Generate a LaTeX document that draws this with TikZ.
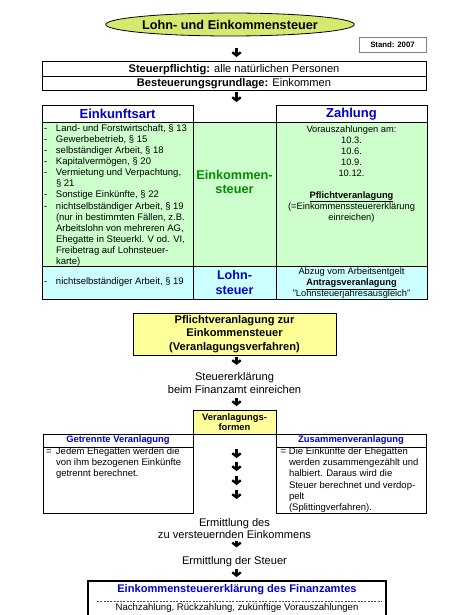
\documentclass[tikz,border=0pt]{standalone}
\usepackage{fontspec}
\setmainfont{Liberation Sans}
\usetikzlibrary{shapes.geometric,arrows.meta,positioning}

\definecolor{hgruen}{RGB}{204,255,204}
\definecolor{hcyan}{RGB}{204,255,255}
\definecolor{hgelb}{RGB}{255,255,153}
\definecolor{ellrand}{RGB}{214,232,110}
\definecolor{ellmitte}{RGB}{255,255,170}
\definecolor{dblau}{RGB}{0,0,204}
\definecolor{dgruen}{RGB}{0,140,0}

\newcommand{\schrift}[2]{\fontsize{#1}{#2}\selectfont}

\begin{document}
\begin{tikzpicture}
[x=1pt,y=-1pt,
every node/.style={inner sep=0pt,outer sep=0pt,align=center},
box/.style={draw,line width=1pt},
kopf/.style={font=\bfseries\schrift{13}{15},text=dblau},
kopfklein/.style={font=\bfseries\schrift{9.4}{11},text=dblau},
klein/.style={font=\schrift{9.5}{11.1}},
mittel/.style={font=\schrift{11.1}{13}},
pfeil/.style={line width=2.4pt,-{Straight Barb[length=3.2pt,width=8.5pt]}},
]
\useasboundingbox (0,0) rectangle (474,615);
\coordinate (achse) at (236.5,0);

\node[ellipse,draw,line width=0.8pt,minimum width=248pt,minimum height=23pt,
  left color=ellrand,middle color=ellmitte,right color=ellrand,
  font=\bfseries\schrift{12.7}{15}] (titel) at (230,24.5) {Lohn- und Einkommensteuer};
\node[draw=gray,line width=0.9pt,minimum width=67pt,minimum height=15pt,
  font=\bfseries\schrift{7.8}{9}] (stand) at (392.5,44.5) {Stand: 2007};

\node[box,mittel,minimum width=384pt,minimum height=15pt] (pflichtig) at (234,69.5)
  {\textbf{Steuerpflichtig:} alle natürlichen Personen};
\node[box,mittel,minimum width=384pt,minimum height=14pt,below=0pt of pflichtig] (grundlage)
  {\textbf{Besteuerungsgrundlage:} Einkommen};

% Tabelle
\node[box,kopf,minimum width=151pt,minimum height=16pt,anchor=north west] (art) at (42,106) {Einkunftsart};
\node[box,fill=hgruen,minimum width=151pt,minimum height=144pt,below=0pt of art] (artliste) {};
\node[box,fill=hcyan,minimum width=151pt,minimum height=33pt,below=0pt of artliste] (artlohn) {};
\node[box,fill=hgruen,minimum width=83pt,minimum height=144pt,right=0pt of artliste] (ekst) {};
\node[box,fill=hcyan,minimum width=83pt,minimum height=33pt,right=0pt of artlohn,
  font=\bfseries\schrift{12.6}{14.5},text=dblau] (lst) {Lohn-\\steuer};
\node[box,kopf,minimum width=151pt,minimum height=16pt,right=83pt of art] (zahlung) {Zahlung};
\node[box,fill=hgruen,minimum width=151pt,minimum height=144pt,below=0pt of zahlung] (vz) {};
\node[box,fill=hcyan,minimum width=151pt,minimum height=33pt,below=0pt of vz] (abzug) {};
\node[font=\schrift{9.3}{11}] (abzugtext) at ([yshift=-0.6pt]abzug.center)
  {Abzug vom Arbeitsentgelt\\\underline{\textbf{Antragsveranlagung}}\\"Lohnsteuerjahresausgleich"};

\node[klein,anchor=north west] (artpunkte) at ([xshift=2pt,yshift=-1.6pt]artliste.north west)
  {\begin{tabular}{@{}p{12pt}@{}l@{}}
  -&Land- und Forstwirtschaft, § 13\\
  -&Gewerbebetrieb, § 15\\
  -&selbständiger Arbeit, § 18\\
  -&Kapitalvermögen, § 20\\
  -&Vermietung und Verpachtung,\\
   &§ 21\\
  -&Sonstige Einkünfte, § 22\\
  -&nichtselbständiger Arbeit, § 19\\
   &(nur in bestimmten Fällen, z.B.\\
   &Arbeitslohn von mehreren AG,\\
   &Ehegatte in Steuerkl. V od. VI,\\
   &Freibetrag auf Lohnsteuer-\\
   &karte)
  \end{tabular}};
\node[klein,anchor=west] (artlohntext) at ([xshift=2pt]artlohn.west)
  {\begin{tabular}{@{}p{12pt}@{}l@{}}-&nichtselbständiger Arbeit, § 19\end{tabular}};
\node[font=\bfseries\schrift{12.7}{14},text=dgruen] (ekstname) at ([yshift=12pt]ekst.center)
  {Einkommen-\\steuer};
\node[font=\schrift{9.3}{11},anchor=north] (vztext) at ([yshift=-3.5pt]vz.north)
  {Vorauszahlungen am:\\10.3.\\10.6.\\10.9.\\10.12.\\[11pt]
  \underline{\textbf{Pflichtveranlagung}}\\(=Einkommenssteuererklärung\\einreichen)};

% Veranlagung
\node[box,fill=hgelb,minimum width=203pt,minimum height=42pt,
  font=\bfseries\schrift{11.1}{13.2}] (pflicht) at (234.5,334)
  {Pflichtveranlagung zur\\Einkommensteuer\\(Veranlagungsverfahren)};
\node[mittel] (erkl) at (234.5,383.5) {Steuererklärung\\beim Finanzamt einreichen};
\node[box,fill=hgelb,minimum width=83pt,minimum height=24pt,
  font=\bfseries\schrift{9.4}{10}] (formen) at (234.5,422) {Veranlagungs-\\formen};

\node[box,kopfklein,minimum width=150pt,minimum height=13pt,anchor=north east] (getrennt)
  at (formen.south west) {Getrennte Veranlagung};
\node[box,minimum width=150pt,minimum height=66pt,below=0pt of getrennt] (getrenntfeld) {};
\node[klein,anchor=north west] (getrennttext) at ([xshift=3pt]getrenntfeld.north west)
  {\begin{tabular}{@{}p{10pt}@{}l@{}}
  =&Jedem Ehegatten werden die\\
   &von ihm bezogenen Einkünfte\\
   &getrennt berechnet.
  \end{tabular}};

\node[box,kopfklein,minimum width=150pt,minimum height=13pt,anchor=north west] (zusammen)
  at (formen.south east) {Zusammenveranlagung};
\node[box,minimum width=150pt,minimum height=66pt,below=0pt of zusammen] (zusammenfeld) {};
\node[klein,anchor=north west] (zusammentext) at ([xshift=4.5pt]zusammenfeld.north west)
  {\begin{tabular}{@{}p{8.5pt}@{}l@{}}
  =&Die Einkünfte der Ehegatten\\
   &werden zusammengezählt und\\
   &halbiert. Daraus wird die\\
   &Steuer berechnet und verdop-\\
   &pelt\\
   &(Splittingverfahren).
  \end{tabular}};

\node[font=\schrift{11.1}{11.2}] (ermittl) at (234.5,528.5) {Ermittlung des\\zu versteuernden Einkommens};
\node[mittel] (steuer) at (234.5,562) {Ermittlung der Steuer};

\node[draw,line width=1.4pt,minimum width=298pt,minimum height=50pt,anchor=north] (bescheid) at (237,581) {};
\node[font=\bfseries\schrift{11.1}{13},text=dblau] (bescheidkopf) at (237,589.5)
  {Einkommensteuererklärung des Finanzamtes};
\draw[line width=0.5pt,dash pattern=on 2pt off 1.3pt,gray!60!black]
  ([xshift=9pt,yshift=-20pt]bescheid.north west) -- ([xshift=-4pt,yshift=-20pt]bescheid.north east);
\node[font=\schrift{9.6}{11}] (bescheidtext) at (237,608.5)
  {Nachzahlung, Rückzahlung, zukünftige Vorauszahlungen};

% Pfeile
\draw[pfeil,shorten <=12pt,shorten >=5pt] (titel.south -| achse) -- (pflichtig.north -| achse);
\draw[pfeil,shorten <=1pt,shorten >=20pt] (grundlage.south -| achse) -- (ekst.north -| achse);
\draw[pfeil,shorten <=2pt,shorten >=8pt] (pflicht.south -| achse) -- (erkl.north -| achse);
\draw[pfeil,shorten <=4pt,shorten >=4pt] (erkl.south -| achse) -- (formen.north -| achse);
\foreach \y in {449,462,476,490}
  \draw[pfeil] (achse |- 0,\y) -- ++(0,9);
\draw[pfeil,shorten <=2.5pt,shorten >=9.5pt] (ermittl.south -| achse) -- (steuer.north -| achse);
\draw[pfeil,shorten <=1.5pt,shorten >=4pt] (steuer.south -| achse) -- (bescheid.north -| achse);
\end{tikzpicture}
\end{document}
